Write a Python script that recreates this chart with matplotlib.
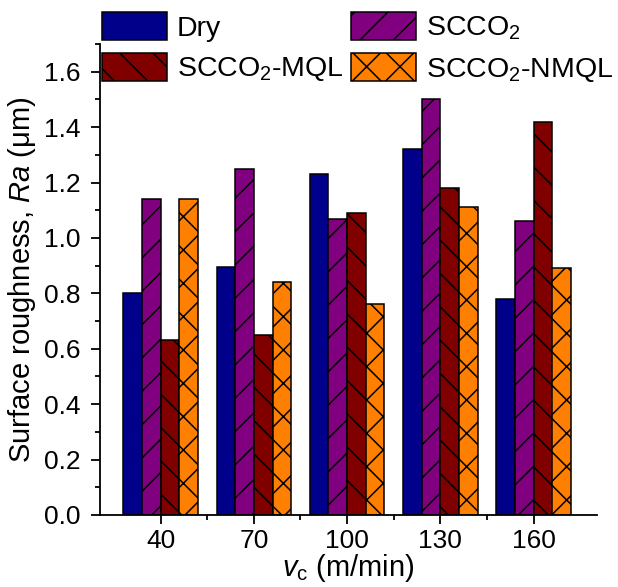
import numpy as np
import matplotlib
matplotlib.use("Agg")
import matplotlib.pyplot as plt
from matplotlib.ticker import MultipleLocator, FixedLocator, FormatStrFormatter

# cutting speeds (m/min) and surface roughness Ra (um) per lubrication condition
speeds = ["40", "70", "100", "130", "160"]
dry = [0.80, 0.895, 1.23, 1.32, 0.78]
scco2 = [1.14, 1.25, 1.07, 1.50, 1.06]
scco2_mql = [0.63, 0.65, 1.09, 1.18, 1.42]
scco2_nmql = [1.14, 0.84, 0.76, 1.11, 0.89]

labels = ["Dry", "SCCO$_2$", "SCCO$_2$-MQL", "SCCO$_2$-NMQL"]
colors = ["#00008B", "#800080", "#800000", "#FF8000"]
hatches = ["", "/", "\\", "x"]

plt.rcParams["font.family"] = ["Liberation Sans", "DejaVu Sans"]
plt.rcParams["mathtext.fontset"] = "custom"
plt.rcParams["mathtext.rm"] = "Liberation Sans"
plt.rcParams["mathtext.it"] = "Liberation Sans:italic"
plt.rcParams["mathtext.default"] = "regular"
plt.rcParams["hatch.linewidth"] = 1.1

fig = plt.figure(figsize=(6.18, 5.87), dpi=100)
ax = fig.add_axes([100 / 618, 72 / 587, 497 / 618, 471 / 587])

x = np.arange(len(speeds))
width = 0.2
series = [dry, scco2, scco2_mql, scco2_nmql]
bars = []
for i, vals in enumerate(series):
    b = ax.bar(x + (i - 1.5) * width, vals, width, color=colors[i],
               hatch=hatches[i], edgecolor="black", linewidth=1.1,
               label=labels[i])
    bars.append(b)

ax.set_xlim(-0.65, 4.68)
ax.set_ylim(0, 1.7)
ax.set_xticks(x)
ax.set_xticklabels(speeds)
ax.xaxis.set_minor_locator(FixedLocator([0.5, 1.5, 2.5, 3.5]))
ax.yaxis.set_major_locator(FixedLocator(np.arange(0, 1.61, 0.2)))
ax.yaxis.set_minor_locator(MultipleLocator(0.1))
ax.yaxis.set_major_formatter(FormatStrFormatter("%.1f"))

for side in ["top", "right"]:
    ax.spines[side].set_visible(False)
for side in ["left", "bottom"]:
    ax.spines[side].set_linewidth(1.3)
ax.tick_params(which="major", length=6.5, width=1.3, pad=7.5, labelsize=19)
ax.tick_params(axis="x", which="major", pad=3.6)
ax.tick_params(which="minor", length=3.8, width=1.3)

ax.set_ylabel(r"Surface roughness, $\mathit{Ra}$ ($\mu$m)", fontsize=21, labelpad=4)
ax.set_xlabel(r"$\mathit{v}_\mathrm{c}$ (m/min)", fontsize=21, labelpad=-1)

# row-wise legend order: Dry, SCCO2 / SCCO2-MQL, SCCO2-NMQL
order = [0, 2, 1, 3]
fig.legend([bars[k] for k in order], [labels[k] for k in order],
           loc="upper left", bbox_to_anchor=(102 / 618, 1 - 12 / 587),
           ncol=2, frameon=False, borderpad=0, borderaxespad=0,
           handlelength=2.28, handleheight=1.12, handletextpad=0.35,
           columnspacing=0.25, labelspacing=0.40, fontsize=20.5)

fig.savefig("out.png", dpi=100)
